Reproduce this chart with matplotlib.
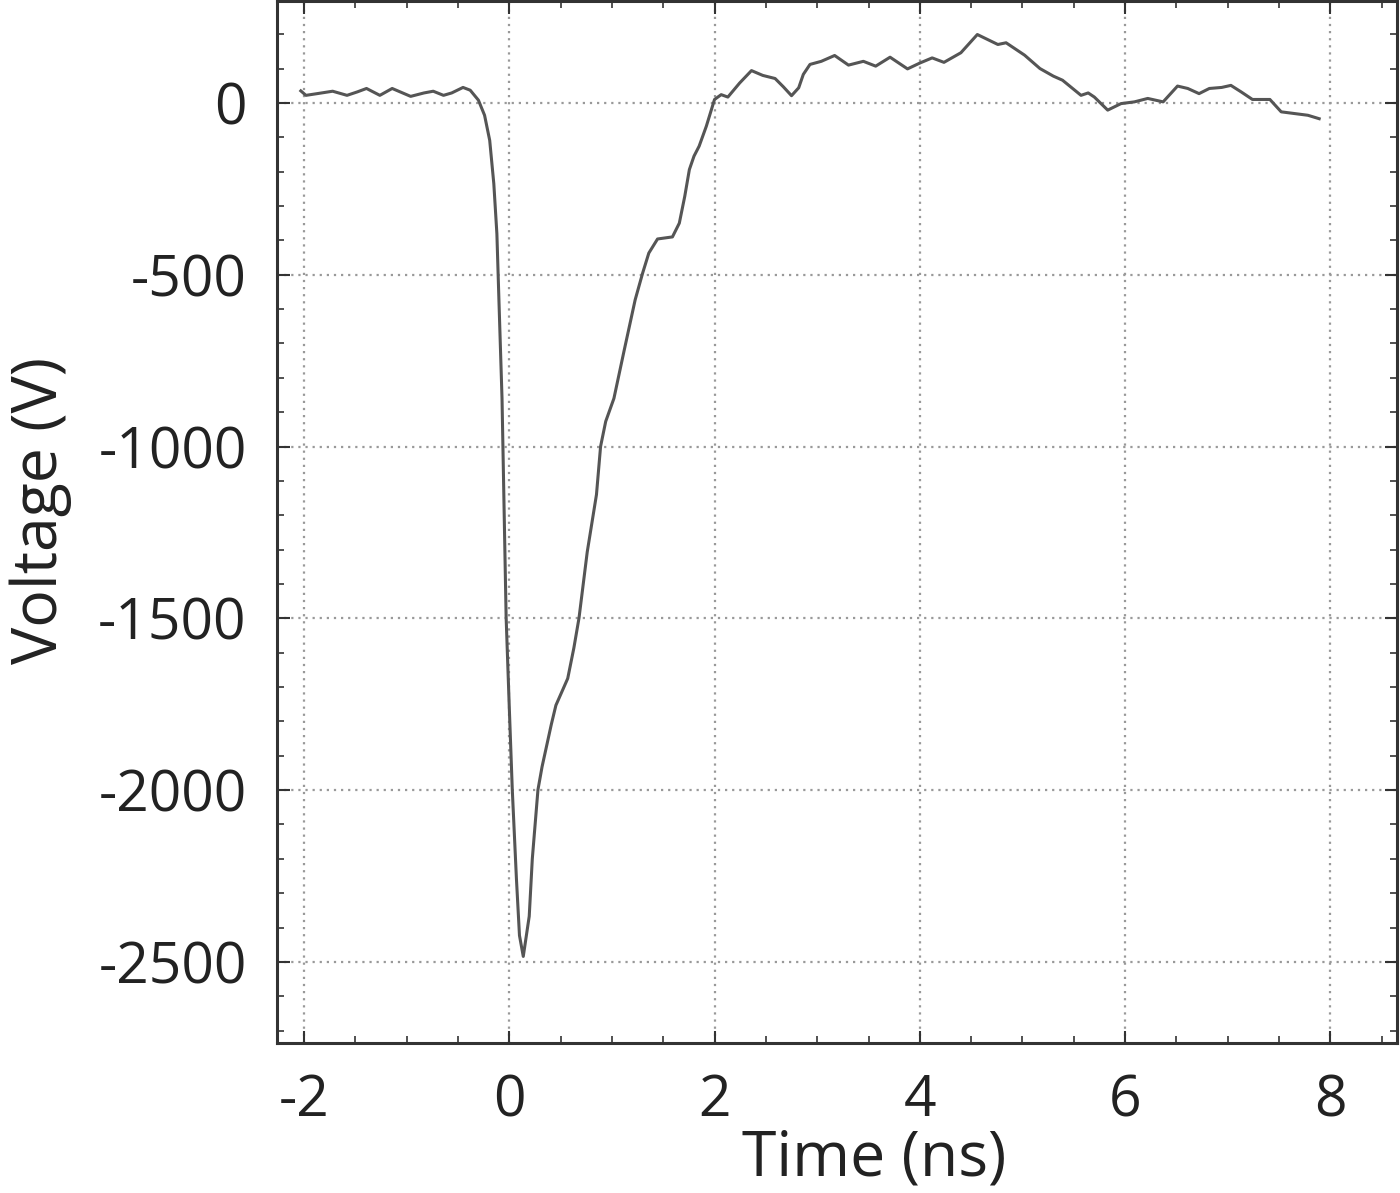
import numpy as np
import matplotlib.pyplot as plt
from matplotlib.ticker import MultipleLocator

# pulse trace (time in ns, voltage in V)
time_ns = [-2.03, -1.98, -1.87, -1.72, -1.58, -1.48, -1.39, -1.26, -1.14, -0.96,
           -0.83, -0.74, -0.64, -0.56, -0.45, -0.38, -0.30, -0.24, -0.19, -0.15,
           -0.12, -0.10, -0.07, -0.03, 0.00, 0.03, 0.07, 0.10, 0.137, 0.195,
           0.225, 0.28, 0.32, 0.41, 0.455, 0.52, 0.57, 0.63, 0.68, 0.76,
           0.85, 0.89, 0.94, 1.02, 1.12, 1.227, 1.30, 1.36, 1.445, 1.59,
           1.657, 1.71, 1.755, 1.80, 1.85, 1.92, 2.00, 2.065, 2.13, 2.245,
           2.36, 2.47, 2.59, 2.67, 2.75, 2.82, 2.865, 2.93, 3.04, 3.17,
           3.305, 3.45, 3.57, 3.71, 3.88, 4.00, 4.12, 4.235, 4.40, 4.56,
           4.76, 4.84, 5.02, 5.17, 5.30, 5.39, 5.57, 5.64, 5.70, 5.83,
           5.96, 6.09, 6.22, 6.37, 6.51, 6.61, 6.72, 6.82, 6.94, 7.03,
           7.13, 7.24, 7.41, 7.52, 7.65, 7.78, 7.89]
voltage = [35, 22, 27, 34, 22, 32, 42, 22, 42, 19,
           29, 34, 22, 29, 45, 37, 8, -36, -109, -235,
           -381, -575, -860, -1497, -1753, -1999, -2256, -2423, -2484, -2367,
           -2200, -1999, -1932, -1809, -1753, -1709, -1675, -1586, -1499, -1307,
           -1140, -1000, -927, -860, -720, -573, -495, -437, -396, -390,
           -350, -272, -194, -155, -126, -68, 10, 24, 17, 58,
           94, 80, 71, 47, 21, 44, 83, 112, 121, 138,
           110, 121, 107, 133, 99, 116, 131, 118, 146, 199,
           170, 175, 139, 100, 78, 66, 22, 29, 17, -21,
           -2, 3, 13, 3, 49, 42, 27, 42, 45, 51,
           32, 10, 10, -26, -31, -36, -46]

x_ticks = [-2, 0, 2, 4, 6, 8]
y_ticks = [0, -500, -1000, -1500, -2000, -2500]

plt.rcParams['font.family'] = ['Open Sans', 'DejaVu Sans']
plt.rcParams['axes.unicode_minus'] = False

fig = plt.figure(figsize=(14, 11.93), dpi=100)
ax = fig.add_axes([0.198, 0.126, 0.8, 0.873])

ax.plot(time_ns, voltage, color='#555555', lw=2.2)

ax.set_xlim(-2.26, 8.65)
ax.set_ylim(-2735, 296)
ax.set_xticks(x_ticks)
ax.set_yticks(y_ticks)
ax.xaxis.set_minor_locator(MultipleLocator(0.5))
ax.yaxis.set_minor_locator(MultipleLocator(100))

ax.grid(True, which='major', linestyle=(0, (1, 2.2)), color='#999999', lw=1.6)
ax.tick_params(which='both', direction='in', top=True, right=True,
               labelsize=41, colors='#333333', labelcolor='#222222')
ax.tick_params(which='major', length=9, width=1.5, pad=22)
ax.tick_params(which='minor', length=5, width=1.2)
for s in ax.spines.values():
    s.set_linewidth(2.2)
    s.set_color('#333333')

ax.set_xlabel('Time (ns)', fontsize=45, color='#222222')
ax.xaxis.set_label_coords(0.533, -0.082)
ax.set_ylabel('Voltage (V)', fontsize=45, color='#222222')
ax.yaxis.set_label_coords(-0.183, 0.511)

fig.savefig('out.png', dpi=100)
